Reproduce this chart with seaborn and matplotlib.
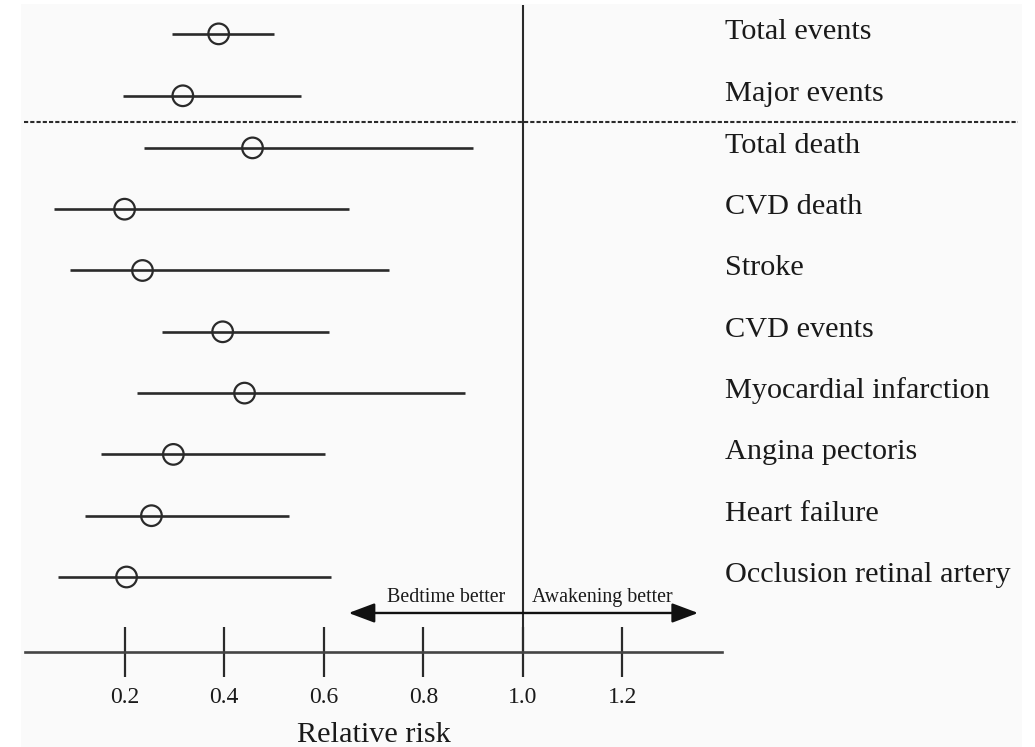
import matplotlib
matplotlib.use("Agg")
import matplotlib.pyplot as plt
import seaborn as sns
import pandas as pd
from matplotlib.patches import Rectangle

outcomes = ["Total events", "Major events", "Total death", "CVD death", "Stroke",
            "CVD events", "Myocardial infarction", "Angina pectoris", "Heart failure",
            "Occlusion retinal artery"]
rr = [0.389, 0.317, 0.457, 0.200, 0.236, 0.397, 0.441, 0.298, 0.254, 0.204]
ci_low = [0.296, 0.196, 0.240, 0.059, 0.091, 0.276, 0.224, 0.152, 0.120, 0.067]
ci_high = [0.500, 0.554, 0.899, 0.650, 0.731, 0.610, 0.883, 0.602, 0.530, 0.614]
tick_vals = [0.2, 0.4, 0.6, 0.8, 1.0, 1.2]
tick_labels = ["0.2", "0.4", "0.6", "0.8", "1.0", "1.2"]
left_text = "Bedtime better"
right_text = "Awakening better"
xlabel = "Relative risk"

# row layout (bottom group evenly spaced, top group separated by dashed line)
n = len(outcomes)
pos = []
for i in range(n):
    if i >= 2:
        pos.append(n - 1 - i)          # Total death = 7 ... Occlusion = 0
pos = [8.86, 7.85] + pos

df = pd.DataFrame({"outcome": outcomes, "rr": rr, "lo": ci_low, "hi": ci_high, "pos": pos})

sns.set_style("white")
plt.rcParams["font.family"] = ["Liberation Serif", "DejaVu Serif"]

fig = plt.figure(figsize=(10.35, 7.47), dpi=100)
fig.patch.set_facecolor("white")
fig.patches.append(Rectangle((21 / 1035, 0), 1001 / 1035, 743 / 747,
                             transform=fig.transFigure, facecolor="#fafafa",
                             edgecolor="none", zorder=-10))
ax = fig.add_axes([25 / 1035, 1 - 652 / 747, 697 / 1035, 647 / 747])
ax.set_facecolor("none")
ax.set_zorder(5)

ink = "#2a2a2a"

ax.hlines(df["pos"], df["lo"], df["hi"], color=ink, lw=1.9, zorder=2)
sns.scatterplot(data=df, x="rr", y="pos", ax=ax, marker="o", s=220,
                facecolor="none", edgecolor=ink, linewidth=1.6, zorder=3, legend=False)

ax.axvline(1.0, color=ink, lw=1.5, zorder=1)
ax.axhline(7.42, xmin=-0.002, xmax=1.424, color=ink, lw=1.5,
           linestyle=(0, (2, 1)), clip_on=False, zorder=1)

for _, r in df.iterrows():
    ax.text(1.406, r["pos"] - 0.08, r["outcome"], fontsize=21.8, color="#1a1a1a",
            ha="left", va="baseline", clip_on=False)

ax.annotate("", xy=(0.650, -0.587), xytext=(1.352, -0.587),
            arrowprops=dict(arrowstyle="<|-|>,head_length=0.8,head_width=0.3",
                            mutation_scale=20, color="#111", lw=1.7,
                            shrinkA=0, shrinkB=0))
ax.text(0.846, -0.33, left_text, fontsize=14.4, ha="center", va="center", color="#1a1a1a")
ax.text(1.159, -0.33, right_text, fontsize=14.4, ha="center", va="center", color="#1a1a1a")

ax.set_xlim(0, 1.4)
ax.set_ylim(-1.2235, 9.331)
ax.set_xticks(tick_vals)
ax.set_xticklabels(tick_labels)
ax.set_yticks([])
ax.tick_params(axis="x", direction="inout", length=36, width=1.6, color=ink,
               pad=7, labelsize=17, labelcolor="#1a1a1a", bottom=True)
for s in ["left", "right", "top"]:
    ax.spines[s].set_visible(False)
ax.spines["bottom"].set_color("#444444")
ax.spines["bottom"].set_linewidth(1.9)
ax.set_xlabel(xlabel, fontsize=21.8, color="#1a1a1a", labelpad=10)
ax.set_ylabel("")

fig.savefig("out.png", dpi=100)
